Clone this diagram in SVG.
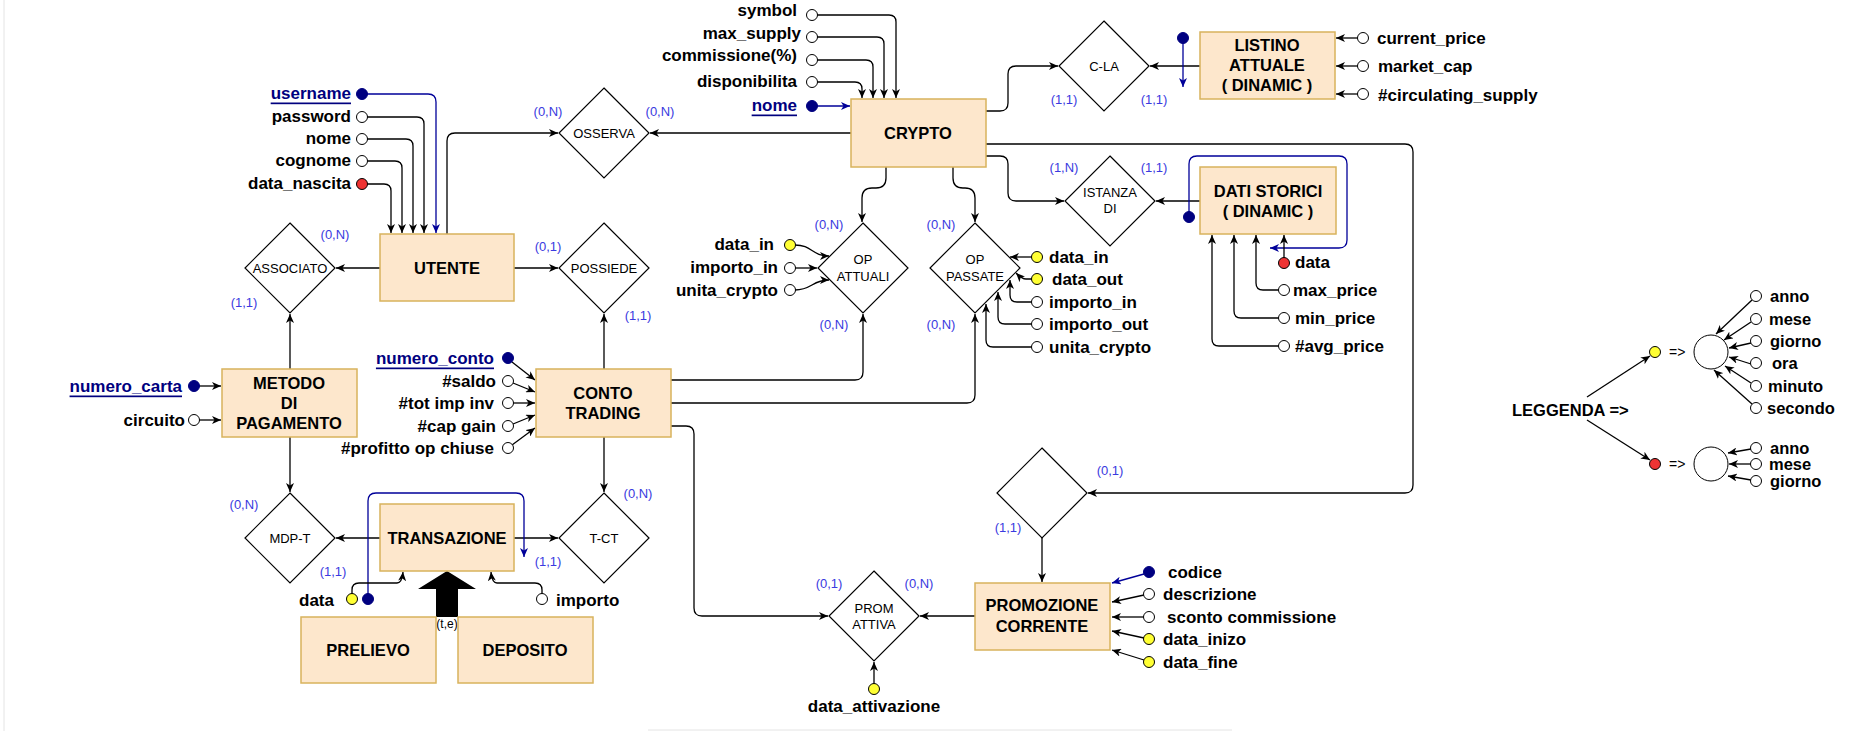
<svg xmlns="http://www.w3.org/2000/svg" width="1876" height="731" viewBox="0 0 1876 731">
<defs>
<marker id="ar" markerUnits="userSpaceOnUse" markerWidth="10" markerHeight="8" refX="9" refY="4" orient="auto">
<path d="M0,0 L9,4 L0,8 L2.5,4 Z" fill="#000"/>
</marker>
<marker id="arb" markerUnits="userSpaceOnUse" markerWidth="10" markerHeight="8" refX="9" refY="4" orient="auto">
<path d="M0,0 L9,4 L0,8 L2.5,4 Z" fill="#000099"/>
</marker>
<style>
text{font-family:"Liberation Sans",Arial,sans-serif;dominant-baseline:central;fill:#000}
.ent rect{fill:#fde7cc;stroke:#d8b35c;stroke-width:1.5}
.ent text{font-size:16.5px;font-weight:bold;text-anchor:middle}
.rel polygon{fill:#fff;stroke:#000;stroke-width:1.2}
.rel text{font-size:13px;text-anchor:middle}
.at{font-size:17px;font-weight:bold}
.e{text-anchor:end}
.key{fill:#00007f;text-decoration:underline}
.card{font-size:13px;fill:#3a3ae0;text-anchor:middle}
.c path{fill:none;stroke:#000;stroke-width:1.3}
.c path.b{stroke:#000099}
.c path.a{marker-end:url(#ar)}
.c path.b.a{marker-end:url(#arb)}
.w{fill:#fff;stroke:#000;stroke-width:1}
.y{fill:#ffff33;stroke:#000;stroke-width:1}
.r{fill:#ee3333;stroke:#000;stroke-width:1}
.k{fill:#000080;stroke:#000080;stroke-width:1}
</style>
</defs>
<rect x="0" y="0" width="1876" height="731" fill="#fff"/>
<line x1="4" y1="0" x2="4" y2="731" stroke="#e4e4e4" stroke-width="1"/>
<line x1="648" y1="730" x2="1232" y2="730" stroke="#e4e4e4" stroke-width="1"/>

<!-- connectors -->
<g id="connectors" class="c">
<path class="a" d="M447,234 V141 Q447,133 455,133 H558"/>
<path class="a" d="M851,133 H650"/>
<path class="a" d="M380,268 H336"/>
<path class="a" d="M514,268 H558"/>
<path class="a" d="M290,369 V314"/>
<path class="a" d="M604,369 V314"/>
<path class="a" d="M290,437 V492"/>
<path class="a" d="M604,437 V492"/>
<path class="a" d="M380,538 H336"/>
<path class="a" d="M514,538 H558"/>
<path class="a" d="M986,111 H1000 Q1008,111 1008,103 V74 Q1008,66 1016,66 H1058"/>
<path class="a" d="M1200,66 H1150"/>
<path class="a" d="M986,156 H1000 Q1008,156 1008,164 V193 Q1008,201 1016,201 H1064"/>
<path class="a" d="M1200,201 H1156"/>
<path class="a" d="M886,167 V178 Q886,188 876,188 H872 Q862,188 862,198 V222"/>
<path class="a" d="M953,167 V178 Q953,188 963,188 H965 Q975,188 975,198 V222"/>
<path class="a" d="M671,380 H855 Q863,380 863,372 V314"/>
<path class="a" d="M671,403 H967 Q975,403 975,395 V314"/>
<path class="a" d="M671,426 H686 Q694,426 694,434 V608 Q694,616 702,616 H828"/>
<path class="a" d="M975,616 H920"/>
<path class="a" d="M986,144 H1405 Q1413,144 1413,152 V485 Q1413,493 1405,493 H1088"/>
<path class="a" d="M1042,538 V582"/>

<!-- UTENTE attributes -->
<path class="b a" d="M367,94 H428 Q436,94 436,102 V233"/>
<path class="a" d="M367,117 H417 Q424,117 424,124 V233"/>
<path class="a" d="M367,139 H406 Q413,139 413,146 V233"/>
<path class="a" d="M367,161 H395 Q402,161 402,168 V233"/>
<path class="a" d="M367,184 H384 Q391,184 391,191 V233"/>
<!-- CRYPTO attributes -->
<path class="a" d="M817,15 H889 Q896,15 896,22 V98"/>
<path class="a" d="M817,37 H877 Q884,37 884,44 V98"/>
<path class="a" d="M817,60 H866 Q873,60 873,67 V98"/>
<path class="a" d="M817,82 H855 Q862,82 862,89 V98"/>
<path class="b a" d="M817,106 H850"/>
<!-- LISTINO -->
<path class="b a" d="M1183,43 V87"/>
<path class="a" d="M1358,38 H1336"/>
<path class="a" d="M1358,66 H1336"/>
<path class="a" d="M1358,94 H1336"/>
<!-- DATI STORICI -->
<path class="b a" d="M1189,212 V164 Q1189,156 1197,156 H1339 Q1347,156 1347,164 V240 Q1347,248 1339,248 H1270"/>
<path class="a" d="M1284,258 V235"/>
<path class="a" d="M1279,290 H1263 Q1256,290 1256,283 V235"/>
<path class="a" d="M1279,318 H1241 Q1234,318 1234,311 V235"/>
<path class="a" d="M1279,346 H1219 Q1212,346 1212,339 V235"/>
<!-- OP ATTUALI -->
<path class="a" d="M795,245 C812,245 812,256 829,256"/>
<path class="a" d="M795,268 H817"/>
<path class="a" d="M795,290 C812,290 812,280 829,280"/>
<!-- OP PASSATE -->
<path class="a" d="M1032,257 H1010"/>
<path class="a" d="M1032,279 H1026 Q1022,279 1016,273"/>
<path class="a" d="M1032,302 H1017 Q1010,302 1010,295 V280"/>
<path class="a" d="M1032,324 H1005 Q998,324 998,317 V292"/>
<path class="a" d="M1032,347 H993 Q986,347 986,340 V304"/>
<!-- CONTO TRADING -->
<path class="a" d="M512,362 L535,380"/>
<path class="a" d="M513,383 L535,392"/>
<path class="a" d="M513,403 H535"/>
<path class="a" d="M513,424 L535,415"/>
<path class="a" d="M512,445 L535,428"/>
<!-- METODO -->
<path class="a" d="M199,386 H221"/>
<path class="a" d="M199,420 H221"/>
<!-- TRANSAZIONE -->
<path class="b a" d="M368,594 V501 Q368,493 376,493 H516 Q524,493 524,501 V557"/>
<path class="a" d="M352,594 V590 Q352,583 359,583 H397 Q402,583 403,572"/>
<path class="a" d="M542,594 V590 Q542,583 535,583 H497 Q492,583 491,572"/>
<!-- PROMOZIONE -->
<path class="b a" d="M1144,574 L1112,583"/>
<path class="a" d="M1144,595 L1112,602"/>
<path class="a" d="M1144,617 H1112"/>
<path class="a" d="M1144,638 L1112,631"/>
<path class="a" d="M1144,660 L1112,650"/>
<path class="a" d="M874,684 V662"/>
<!-- legend -->
<path class="a" d="M1587,397 L1650,356"/>
<path class="a" d="M1587,420 L1650,460"/>
<path class="a" d="M1752,300 L1716,334"/>
<path class="a" d="M1751,322 L1724,340"/>
<path class="a" d="M1751,343 L1729,348"/>
<path class="a" d="M1751,364 L1729,357"/>
<path class="a" d="M1751,383 L1725,366"/>
<path class="a" d="M1752,404 L1714,370"/>
<path class="a" d="M1751,449 L1728,453"/>
<path class="a" d="M1751,464 L1729,464"/>
<path class="a" d="M1751,480 L1728,476"/>
</g>

<!-- ISA arrow -->
<g id="isa">
<polygon points="447,571 476,589 458,589 458,617 436,617 436,589 418,589" fill="#000"/>
<text x="447" y="624" style="font-size:12px;text-anchor:middle">(t,e)</text>
</g>

<!-- entities -->
<g id="utente" class="ent"><rect x="380" y="234" width="134" height="67"/><text x="447" y="268">UTENTE</text></g>
<g id="crypto" class="ent"><rect x="851" y="99" width="135" height="68"/><text x="918" y="133">CRYPTO</text></g>
<g id="listino" class="ent"><rect x="1200" y="32" width="135" height="67"/><text x="1267" y="45">LISTINO</text><text x="1267" y="65">ATTUALE</text><text x="1267" y="85">( DINAMIC )</text></g>
<g id="dati" class="ent"><rect x="1200" y="167" width="136" height="67"/><text x="1268" y="191">DATI STORICI</text><text x="1268" y="211">( DINAMIC )</text></g>
<g id="metodo" class="ent"><rect x="222" y="369" width="135" height="68"/><text x="289" y="383">METODO</text><text x="289" y="403">DI</text><text x="289" y="423">PAGAMENTO</text></g>
<g id="conto" class="ent"><rect x="536" y="369" width="135" height="68"/><text x="603" y="393">CONTO</text><text x="603" y="413">TRADING</text></g>
<g id="transazione" class="ent"><rect x="380" y="504" width="134" height="67"/><text x="447" y="538">TRANSAZIONE</text></g>
<g id="prelievo" class="ent"><rect x="301" y="617" width="135" height="66"/><text x="368" y="650">PRELIEVO</text></g>
<g id="deposito" class="ent"><rect x="458" y="617" width="135" height="66"/><text x="525" y="650">DEPOSITO</text></g>
<g id="promozione" class="ent"><rect x="975" y="583" width="135" height="67"/><text x="1042" y="605">PROMOZIONE</text><text x="1042" y="626">CORRENTE</text></g>

<!-- relationships -->
<g id="osserva" class="rel"><polygon points="604,88 649,133 604,178 559,133"/><text x="604" y="133">OSSERVA</text></g>
<g id="associato" class="rel"><polygon points="290,223 335,268 290,313 245,268"/><text x="290" y="268">ASSOCIATO</text></g>
<g id="possiede" class="rel"><polygon points="604,223 649,268 604,313 559,268"/><text x="604" y="268">POSSIEDE</text></g>
<g id="c-la" class="rel"><polygon points="1104,21 1149,66 1104,111 1059,66"/><text x="1104" y="66">C-LA</text></g>
<g id="istanza" class="rel"><polygon points="1110,156 1155,201 1110,246 1065,201"/><text x="1110" y="192">ISTANZA</text><text x="1110" y="208">DI</text></g>
<g id="op-attuali" class="rel"><polygon points="863,223 908,268 863,313 818,268"/><text x="863" y="259">OP</text><text x="863" y="276">ATTUALI</text></g>
<g id="op-passate" class="rel"><polygon points="975,223 1020,268 975,313 930,268"/><text x="975" y="259">OP</text><text x="975" y="276">PASSATE</text></g>
<g id="mdp-t" class="rel"><polygon points="290,493 335,538 290,583 245,538"/><text x="290" y="538">MDP-T</text></g>
<g id="t-ct" class="rel"><polygon points="604,493 649,538 604,583 559,538"/><text x="604" y="538">T-CT</text></g>
<g id="rel-promo" class="rel"><polygon points="1042,448 1087,493 1042,538 997,493"/></g>
<g id="prom-attiva" class="rel"><polygon points="874,571 919,616 874,661 829,616"/><text x="874" y="608">PROM</text><text x="874" y="624">ATTIVA</text></g>

<!-- cardinalities -->
<g id="cards">
<text class="card" x="548" y="111">(0,N)</text>
<text class="card" x="660" y="111">(0,N)</text>
<text class="card" x="335" y="234">(0,N)</text>
<text class="card" x="244" y="302">(1,1)</text>
<text class="card" x="548" y="246">(0,1)</text>
<text class="card" x="638" y="315">(1,1)</text>
<text class="card" x="1064" y="99">(1,1)</text>
<text class="card" x="1154" y="99">(1,1)</text>
<text class="card" x="1064" y="167">(1,N)</text>
<text class="card" x="1154" y="167">(1,1)</text>
<text class="card" x="829" y="224">(0,N)</text>
<text class="card" x="834" y="324">(0,N)</text>
<text class="card" x="941" y="224">(0,N)</text>
<text class="card" x="941" y="324">(0,N)</text>
<text class="card" x="244" y="504">(0,N)</text>
<text class="card" x="333" y="571">(1,1)</text>
<text class="card" x="638" y="493">(0,N)</text>
<text class="card" x="548" y="561">(1,1)</text>
<text class="card" x="1110" y="470">(0,1)</text>
<text class="card" x="1008" y="527">(1,1)</text>
<text class="card" x="829" y="583">(0,1)</text>
<text class="card" x="919" y="583">(0,N)</text>
</g>

<!-- attributes -->
<g id="attr-utente">
<circle class="k" cx="362" cy="94" r="5.5"/><circle class="w" cx="362" cy="117" r="5.5"/><circle class="w" cx="362" cy="139" r="5.5"/><circle class="w" cx="362" cy="161" r="5.5"/><circle class="r" cx="362" cy="184" r="5.5"/>
<text class="at e key" x="351" y="93">username</text>
<text class="at e" x="351" y="116">password</text>
<text class="at e" x="351" y="138">nome</text>
<text class="at e" x="351" y="160">cognome</text>
<text class="at e" x="351" y="183">data_nascita</text>
</g>
<g id="attr-crypto">
<circle class="w" cx="812" cy="15" r="5.5"/><circle class="w" cx="812" cy="37" r="5.5"/><circle class="w" cx="812" cy="60" r="5.5"/><circle class="w" cx="812" cy="82" r="5.5"/><circle class="k" cx="812" cy="106" r="5.5"/>
<text class="at e" x="797" y="10">symbol</text>
<text class="at e" x="801" y="33">max_supply</text>
<text class="at e" x="797" y="55">commissione(%)</text>
<text class="at e" x="797" y="81">disponibilita</text>
<text class="at e key" x="797" y="105">nome</text>
</g>
<g id="attr-listino">
<circle class="k" cx="1183" cy="38" r="5.5"/>
<circle class="w" cx="1363" cy="38" r="5.5"/><circle class="w" cx="1363" cy="66" r="5.5"/><circle class="w" cx="1363" cy="94" r="5.5"/>
<text class="at" x="1377" y="38">current_price</text>
<text class="at" x="1378" y="66">market_cap</text>
<text class="at" x="1378" y="95">#circulating_supply</text>
</g>
<g id="attr-dati">
<circle class="k" cx="1189" cy="217" r="5.5"/>
<circle class="r" cx="1284" cy="263" r="5.5"/><circle class="w" cx="1284" cy="290" r="5.5"/><circle class="w" cx="1284" cy="318" r="5.5"/><circle class="w" cx="1284" cy="346" r="5.5"/>
<text class="at" x="1295" y="262">data</text>
<text class="at" x="1293" y="290">max_price</text>
<text class="at" x="1295" y="318">min_price</text>
<text class="at" x="1295" y="346">#avg_price</text>
</g>
<g id="attr-opattuali">
<circle class="y" cx="790" cy="245" r="5.5"/><circle class="w" cx="790" cy="268" r="5.5"/><circle class="w" cx="790" cy="290" r="5.5"/>
<text class="at e" x="774" y="244">data_in</text>
<text class="at e" x="778" y="267">importo_in</text>
<text class="at e" x="778" y="290">unita_crypto</text>
</g>
<g id="attr-oppassate">
<circle class="y" cx="1037" cy="257" r="5.5"/><circle class="y" cx="1037" cy="279" r="5.5"/><circle class="w" cx="1037" cy="302" r="5.5"/><circle class="w" cx="1037" cy="324" r="5.5"/><circle class="w" cx="1037" cy="347" r="5.5"/>
<text class="at" x="1049" y="257">data_in</text>
<text class="at" x="1052" y="279">data_out</text>
<text class="at" x="1049" y="302">importo_in</text>
<text class="at" x="1049" y="324">importo_out</text>
<text class="at" x="1049" y="347">unita_crypto</text>
</g>
<g id="attr-conto">
<circle class="k" cx="508" cy="358" r="5.5"/><circle class="w" cx="508" cy="381" r="5.5"/><circle class="w" cx="508" cy="403" r="5.5"/><circle class="w" cx="508" cy="426" r="5.5"/><circle class="w" cx="508" cy="448" r="5.5"/>
<text class="at e key" x="494" y="358">numero_conto</text>
<text class="at e" x="496" y="381">#saldo</text>
<text class="at e" x="494" y="403">#tot imp inv</text>
<text class="at e" x="496" y="426">#cap gain</text>
<text class="at e" x="494" y="448">#profitto op chiuse</text>
</g>
<g id="attr-metodo">
<circle class="k" cx="194" cy="386" r="5.5"/><circle class="w" cx="194" cy="420" r="5.5"/>
<text class="at e key" x="182" y="386">numero_carta</text>
<text class="at e" x="185" y="420">circuito</text>
</g>
<g id="attr-transazione">
<circle class="y" cx="352" cy="599" r="5.5"/><circle class="k" cx="368" cy="599" r="5.5"/><circle class="w" cx="542" cy="599" r="5.5"/>
<text class="at e" x="334" y="600">data</text>
<text class="at" x="556" y="600">importo</text>
</g>
<g id="attr-promozione">
<circle class="k" cx="1149" cy="572" r="5.5"/><circle class="w" cx="1149" cy="594" r="5.5"/><circle class="w" cx="1149" cy="617" r="5.5"/><circle class="y" cx="1149" cy="639" r="5.5"/><circle class="y" cx="1149" cy="662" r="5.5"/>
<text class="at" x="1168" y="572">codice</text>
<text class="at" x="1163" y="594">descrizione</text>
<text class="at" x="1167" y="617">sconto commissione</text>
<text class="at" x="1163" y="639">data_inizo</text>
<text class="at" x="1163" y="662">data_fine</text>
</g>
<g id="attr-promattiva">
<circle class="y" cx="874" cy="689" r="5.5"/>
<text class="at" x="874" y="706" style="text-anchor:middle">data_attivazione</text>
</g>

<!-- legend -->
<g id="legend">
<text class="at" x="1512" y="410" style="font-size:16.5px">LEGGENDA =&gt;</text>
<circle class="y" cx="1655" cy="352" r="5.5"/>
<circle class="r" cx="1655" cy="464" r="5.5"/>
<text x="1669" y="352" style="font-size:14px">=&gt;</text>
<text x="1669" y="464" style="font-size:14px">=&gt;</text>
<circle class="w" cx="1711" cy="352" r="17"/>
<circle class="w" cx="1711" cy="464" r="17"/>
<circle class="w" cx="1756" cy="296" r="5.5"/><circle class="w" cx="1756" cy="319" r="5.5"/><circle class="w" cx="1756" cy="341" r="5.5"/><circle class="w" cx="1756" cy="363" r="5.5"/><circle class="w" cx="1756" cy="386" r="5.5"/><circle class="w" cx="1756" cy="408" r="5.5"/>
<circle class="w" cx="1756" cy="448" r="5.5"/><circle class="w" cx="1756" cy="464" r="5.5"/><circle class="w" cx="1756" cy="481" r="5.5"/>
<text class="at" x="1770" y="296" style="font-size:16.5px">anno</text>
<text class="at" x="1769" y="319" style="font-size:16.5px">mese</text>
<text class="at" x="1770" y="341" style="font-size:16.5px">giorno</text>
<text class="at" x="1772" y="363" style="font-size:16.5px">ora</text>
<text class="at" x="1768" y="386" style="font-size:16.5px">minuto</text>
<text class="at" x="1767" y="408" style="font-size:16.5px">secondo</text>
<text class="at" x="1770" y="448" style="font-size:16.5px">anno</text>
<text class="at" x="1769" y="464" style="font-size:16.5px">mese</text>
<text class="at" x="1770" y="481" style="font-size:16.5px">giorno</text>
</g>
</svg>
